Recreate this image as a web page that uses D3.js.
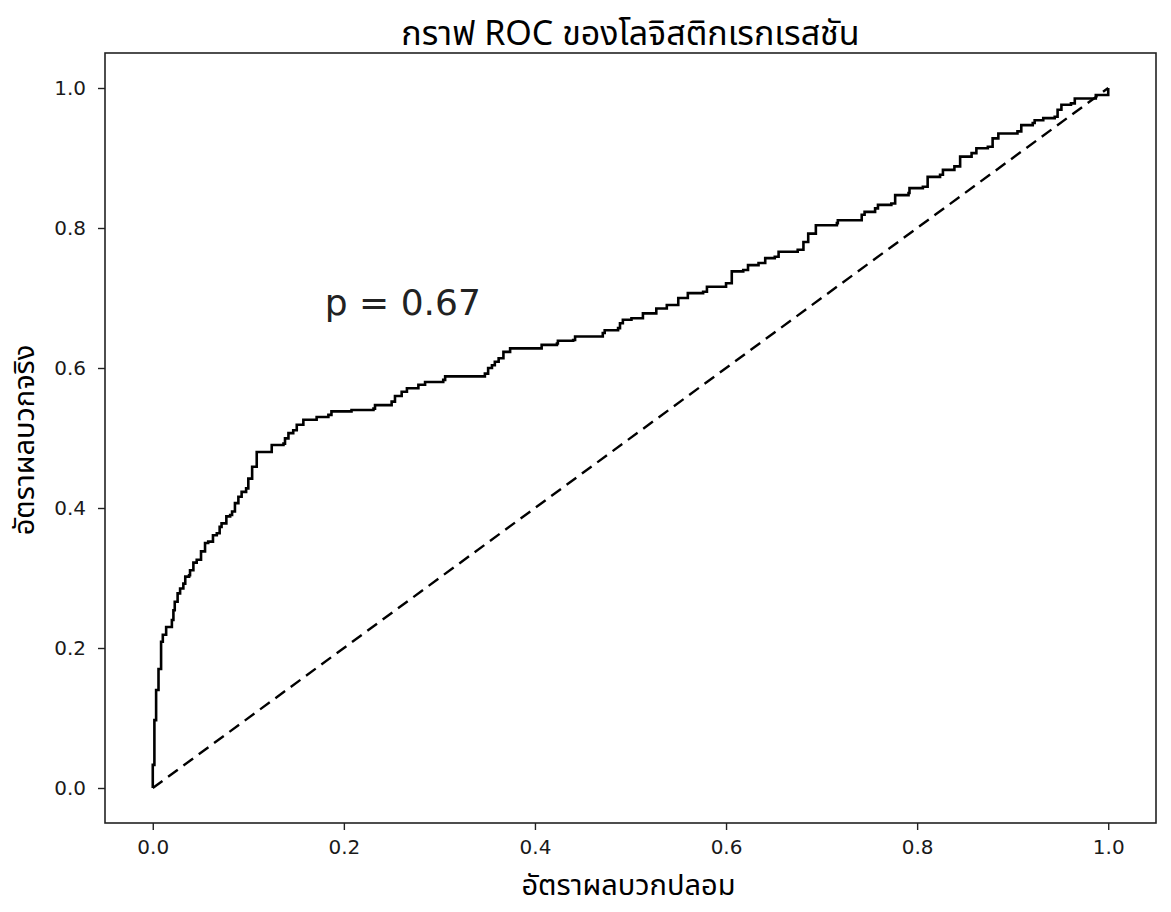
<!DOCTYPE html>
<html>
<head>
<meta charset="utf-8">
<script src="https://cdn.jsdelivr.net/npm/d3@7"></script>
<style>
  body { margin: 0; background: #fff; }
  .thai { font-family: "Noto Sans Thai", "Loma", "Garuda", "Tahoma", "Noto Sans", sans-serif; font-weight: normal; }
  .tick text { font-family: "DejaVu Sans", sans-serif; }
</style>
</head>
<body>
<div id="graphicContainer"></div>
<script>
// ROC curve (fpr, tpr), step corners
var fpr = [0, 0, 0.0017, 0.0035, 0.006, 0.0087, 0.0105, 0.014, 0.018, 0.020, 0.0216, 0.023, 0.026, 0.0286, 0.032, 0.034, 0.038, 0.039, 0.0425, 0.046, 0.0505, 0.0547, 0.058, 0.063, 0.067, 0.070, 0.072, 0.077, 0.081, 0.083, 0.086, 0.0896, 0.093, 0.0977, 0.100, 0.104,
	0.1088, 0.1172, 0.1245, 0.1368, 0.1384, 0.142, 0.147, 0.1507, 0.1576, 0.1715, 0.1838, 0.187, 0.208, 0.231, 0.2326, 0.25, 0.2535, 0.2605, 0.266, 0.278, 0.285, 0.304, 0.306, 0.346, 0.3476, 0.351, 0.355, 0.358, 0.362, 0.367, 0.374, 0.405, 0.407, 0.423, 0.424, 0.440, 0.442, 0.471, 0.473, 0.487, 0.489, 0.492, 0.501, 0.513,
	0.527, 0.538, 0.550, 0.560, 0.576, 0.580, 0.600, 0.606, 0.618, 0.623, 0.634, 0.641, 0.651, 0.655, 0.675, 0.681, 0.686, 0.694, 0.716, 0.717, 0.742, 0.745, 0.756, 0.759, 0.773, 0.777, 0.791, 0.792, 0.806, 0.811, 0.824, 0.827, 0.839, 0.845, 0.857, 0.862, 0.874, 0.879, 0.885, 0.905, 0.909, 0.921, 0.923, 0.932, 0.944, 0.947, 0.951, 0.961, 0.965, 0.982, 0.987, 1.0]
var tpr = [0, 0.033, 0.097, 0.14, 0.170, 0.209, 0.219, 0.230, 0.230, 0.240, 0.254, 0.266, 0.278, 0.285, 0.292, 0.302, 0.304, 0.311, 0.322, 0.326, 0.338, 0.350, 0.352, 0.361, 0.364, 0.373, 0.378, 0.388, 0.390, 0.395, 0.407, 0.416, 0.423, 0.428, 0.442, 0.459,
	0.480, 0.480, 0.490, 0.492, 0.4995, 0.507, 0.511, 0.519, 0.526, 0.530, 0.533, 0.538, 0.540, 0.542, 0.547, 0.552, 0.560, 0.566, 0.571, 0.576, 0.580, 0.583, 0.588, 0.588, 0.592, 0.600, 0.604, 0.609, 0.614, 0.623, 0.628, 0.628, 0.633, 0.635, 0.639, 0.640, 0.645, 0.650, 0.654, 0.657, 0.664, 0.669, 0.671, 0.678,
	0.685, 0.690, 0.700, 0.707, 0.709, 0.716, 0.721, 0.738, 0.740, 0.747, 0.750, 0.757, 0.759, 0.766, 0.769, 0.780, 0.792, 0.804, 0.807, 0.811, 0.819, 0.823, 0.828, 0.833, 0.835, 0.847, 0.850, 0.857, 0.859, 0.873, 0.876, 0.883, 0.888, 0.902, 0.907, 0.914, 0.916, 0.928, 0.935, 0.938, 0.947, 0.950, 0.954, 0.957, 0.959, 0.969, 0.976, 0.978, 0.985, 0.985, 0.990, 1.0]

var chance = [[0, 0], [1, 1]]
var xTicks = [0, 0.2, 0.4, 0.6, 0.8, 1.0]
var yTicks = [0, 0.2, 0.4, 0.6, 0.8, 1.0]

var titleText = "กราฟ ROC ของโลจิสติกเรกเรสชัน"
var xLabel = "อัตราผลบวกปลอม"
var yLabel = "อัตราผลบวกจริง"
var noteText = "p = 0.67"

var width = 1171
var height = 912
var margin = {top: 53, right: 15, bottom: 89, left: 105}

var svg = d3.select("#graphicContainer").append("svg")
	.attr("width", width)
	.attr("height", height)

svg.append("rect").attr("width", width).attr("height", height).attr("fill", "#fff")

var x = d3.scaleLinear()
	.domain([-0.05, 1.05])
	.range([margin.left, width - margin.right])

var y = d3.scaleLinear()
	.domain([-0.05, 1.05])
	.range([height - margin.bottom, margin.top])

var xAxis = svg.append("g")
	.attr("transform", "translate(0," + (height - margin.bottom) + ")")
	.call(d3.axisBottom(x).tickValues(xTicks).tickFormat(d3.format(".1f")).tickSize(7).tickSizeOuter(0).tickPadding(10))

var yAxis = svg.append("g")
	.attr("transform", "translate(" + margin.left + ",0)")
	.call(d3.axisLeft(y).tickValues(yTicks).tickFormat(d3.format(".1f")).tickSize(7).tickSizeOuter(0).tickPadding(12))

svg.selectAll(".domain").remove()
svg.selectAll(".tick line").attr("stroke", "#222").attr("stroke-width", 1.4)
svg.selectAll(".tick text").attr("fill", "#1a1a1a").style("font-size", "20px")

// frame
svg.append("rect")
	.attr("x", x(-0.05))
	.attr("y", y(1.05))
	.attr("width", x(1.05) - x(-0.05))
	.attr("height", y(-0.05) - y(1.05))
	.attr("fill", "none")
	.attr("stroke", "#222")
	.attr("stroke-width", 1.6)

var line = d3.line()
	.x(d => x(d[0]))
	.y(d => y(d[1]))

svg.append("path")
	.datum(chance)
	.attr("d", line)
	.attr("fill", "none")
	.attr("stroke", "#000")
	.attr("stroke-width", 2.4)
	.attr("stroke-dasharray", "12,7")

var rocPts = fpr.map((d, i) => [d, tpr[i]])

svg.append("path")
	.datum(rocPts)
	.attr("d", line.curve(d3.curveStepAfter))
	.attr("fill", "none")
	.attr("stroke", "#000")
	.attr("stroke-width", 2.6)
	.attr("stroke-linejoin", "miter")

svg.append("text")
	.attr("x", x(0.18))
	.attr("y", y(0.676))
	.attr("font-family", "DejaVu Sans, sans-serif")
	.attr("font-size", 36)
	.attr("fill", "#222")
	.text(noteText)

svg.append("text")
	.attr("class", "thai")
	.attr("x", (x(-0.05) + x(1.05)) / 2)
	.attr("y", 45)
	.attr("text-anchor", "middle")
	.attr("font-size", 34)
	.attr("fill", "#000")
	.text(titleText)

svg.append("text")
	.attr("class", "thai")
	.attr("x", (x(-0.05) + x(1.05)) / 2 - 2)
	.attr("y", 895)
	.attr("text-anchor", "middle")
	.attr("font-size", 29)
	.attr("fill", "#000")
	.text(xLabel)

svg.append("text")
	.attr("class", "thai")
	.attr("transform", "translate(34," + ((y(-0.05) + y(1.05)) / 2 + 2) + ") rotate(-90)")
	.attr("text-anchor", "middle")
	.attr("font-size", 29)
	.attr("fill", "#000")
	.text(yLabel)
</script>
</body>
</html>
